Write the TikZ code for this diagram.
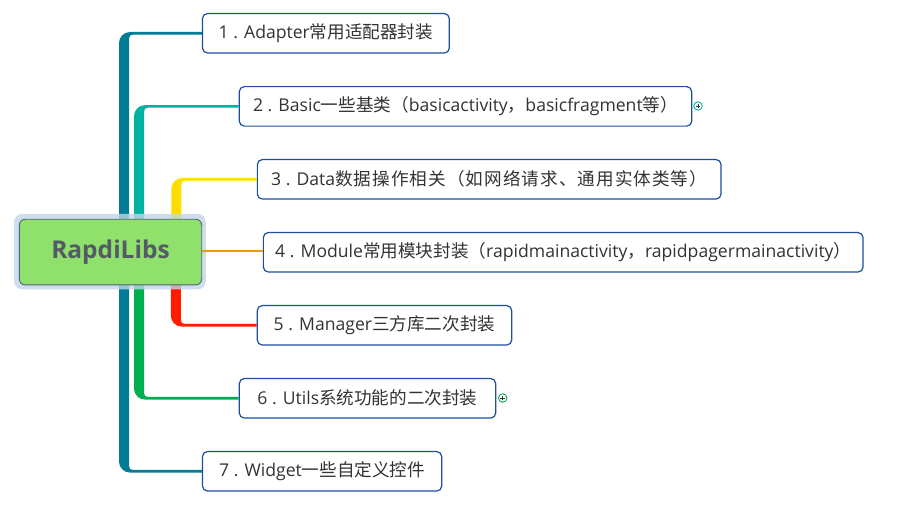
\documentclass[tikz,border=0pt]{standalone}
\usepackage{fontspec}
\setmainfont{Open Sans}
\newfontfamily\cjk{Noto Sans CJK SC}
\newfontfamily\cjkwide[LetterSpace=6]{Noto Sans CJK SC}
\usetikzlibrary{calc}
\definecolor{cTeal}{HTML}{007C96}
\definecolor{cAqua}{HTML}{00B3A1}
\definecolor{cYellow}{HTML}{FFDD00}
\definecolor{cOrange}{HTML}{F39800}
\definecolor{cRed}{HTML}{FF1A00}
\definecolor{cGreen}{HTML}{00B050}
\definecolor{cBorder}{HTML}{1B4E9E}
\definecolor{cText}{HTML}{333333}
\definecolor{cRoot}{HTML}{90E06C}
\definecolor{cRootBorder}{HTML}{51627C}
\definecolor{cGlow}{HTML}{C3D6E8}
\definecolor{cRootText}{HTML}{555B66}
\tikzset{
  topic/.style={draw=cBorder, line width=1.2pt, fill=white, rounded corners=5pt,
    minimum height=39.5pt, inner sep=0pt, text=cText,
    font=\fontsize{17.6}{21}\selectfont},
  plusmark/.style={circle, draw=#1, line width=0.9pt, fill=white, minimum size=8.5pt, inner sep=0pt},
}
% up branch: colour, left x, target node
\newcommand\upbranch[3]{%
 \fill[#1] let \p1=(#3.west), \n1={\y1+1.3}, \n2={\y1-1.3} in
  (#2,254) -- (#2,{\n1-11}) .. controls (#2,{\n1-5}) and ({#2+5},\n1) .. ({#2+11},\n1)
  -- (\x1,\n1) -- (\x1,\n2) -- ({#2+14},\n2) .. controls ({#2+11.5},\n2) and ({#2+10},{\n2-1.5}) .. ({#2+10},{\n2-4})
  -- ({#2+10},254) -- cycle;}
\newcommand\downbranch[3]{%
 \fill[#1] let \p1=(#3.west), \n1={\y1-1.3}, \n2={\y1+1.3} in
  (#2,254) -- (#2,{\n1+11}) .. controls (#2,{\n1+5}) and ({#2+5},\n1) .. ({#2+11},\n1)
  -- (\x1,\n1) -- (\x1,\n2) -- ({#2+14},\n2) .. controls ({#2+11.5},\n2) and ({#2+10},{\n2+1.5}) .. ({#2+10},{\n2+4})
  -- ({#2+10},254) -- cycle;}
\begin{document}
\begin{tikzpicture}[x=1pt,y=1pt]
\useasboundingbox (0,0) rectangle (898,506);
% topics
\node[topic, minimum width=246.8pt] (n1) at (325.9,472.7) {1 . Adapter{\cjk 常用适配器封装}};
\node[topic, minimum width=452.4pt] (n2) at (465.5,399.6) {2 . Basic{\cjk 一些基类（}basicactivity{\cjk ，}basicfragment{\cjk 等）}};
\node[topic, minimum width=463.7pt] (n3) at (489.2,326.7) {3 . Data{\cjkwide 数据操作相关（如网络请求、通用实体类等）}};
\node[topic, minimum width=599.7pt] (n4) at (563.2,253.7) {4 . Module{\cjk 常用模块封装（}rapidmainactivity{\cjk ，}rapidpagermainactivity{\cjk ）}};
\node[topic, minimum width=254.4pt] (n5) at (384.5,180.7) {5 . Manager{\cjk 三方库二次封装}};
\node[topic, minimum width=256.4pt] (n6) at (367.5,107.7) {6 . Utils{\cjk 系统功能的二次封装}};
\node[topic, minimum width=239.2pt] (n7) at (322.1,34.7) {7 . Widget{\cjk 一些自定义控件}};
% branches
\upbranch{cTeal}{119}{n1}
\upbranch{cAqua}{134}{n2}
\upbranch{cYellow}{171.3}{n3}
\downbranch{cRed}{170.8}{n5}
\downbranch{cGreen}{134}{n6}
\downbranch{cTeal}{119}{n7}
% root
\node[fill=cGlow, fill opacity=0.8, rounded corners=8pt, minimum width=191.7pt, minimum height=75.4pt, inner sep=0pt] (glow) at (109.9,254.4) {};
\node[fill=cRoot, draw=cRootBorder, line width=0.9pt, rounded corners=6pt, minimum width=182.4pt, minimum height=65.7pt, inner sep=0pt,
  text=cRootText, font=\fontsize{24.5}{29}\selectfont\bfseries] (root) at (110.5,253.9) {RapdiLibs};
\draw[cOrange, line width=2.3pt] (root.east |- 0,254.8) -- (n4.west |- 0,254.8);
% collapse markers
\node[plusmark=cAqua] (p2) at (698,400) {};
\node[plusmark=cGreen] (p6) at (502.7,108) {};
\draw[cText, line width=0.7pt] ($(p2)+(-2.3,0)$) -- ($(p2)+(2.3,0)$) ($(p2)+(0,-2.3)$) -- ($(p2)+(0,2.3)$);
\draw[cText, line width=0.7pt] ($(p6)+(-2.3,0)$) -- ($(p6)+(2.3,0)$) ($(p6)+(0,-2.3)$) -- ($(p6)+(0,2.3)$);
\end{tikzpicture}
\end{document}
